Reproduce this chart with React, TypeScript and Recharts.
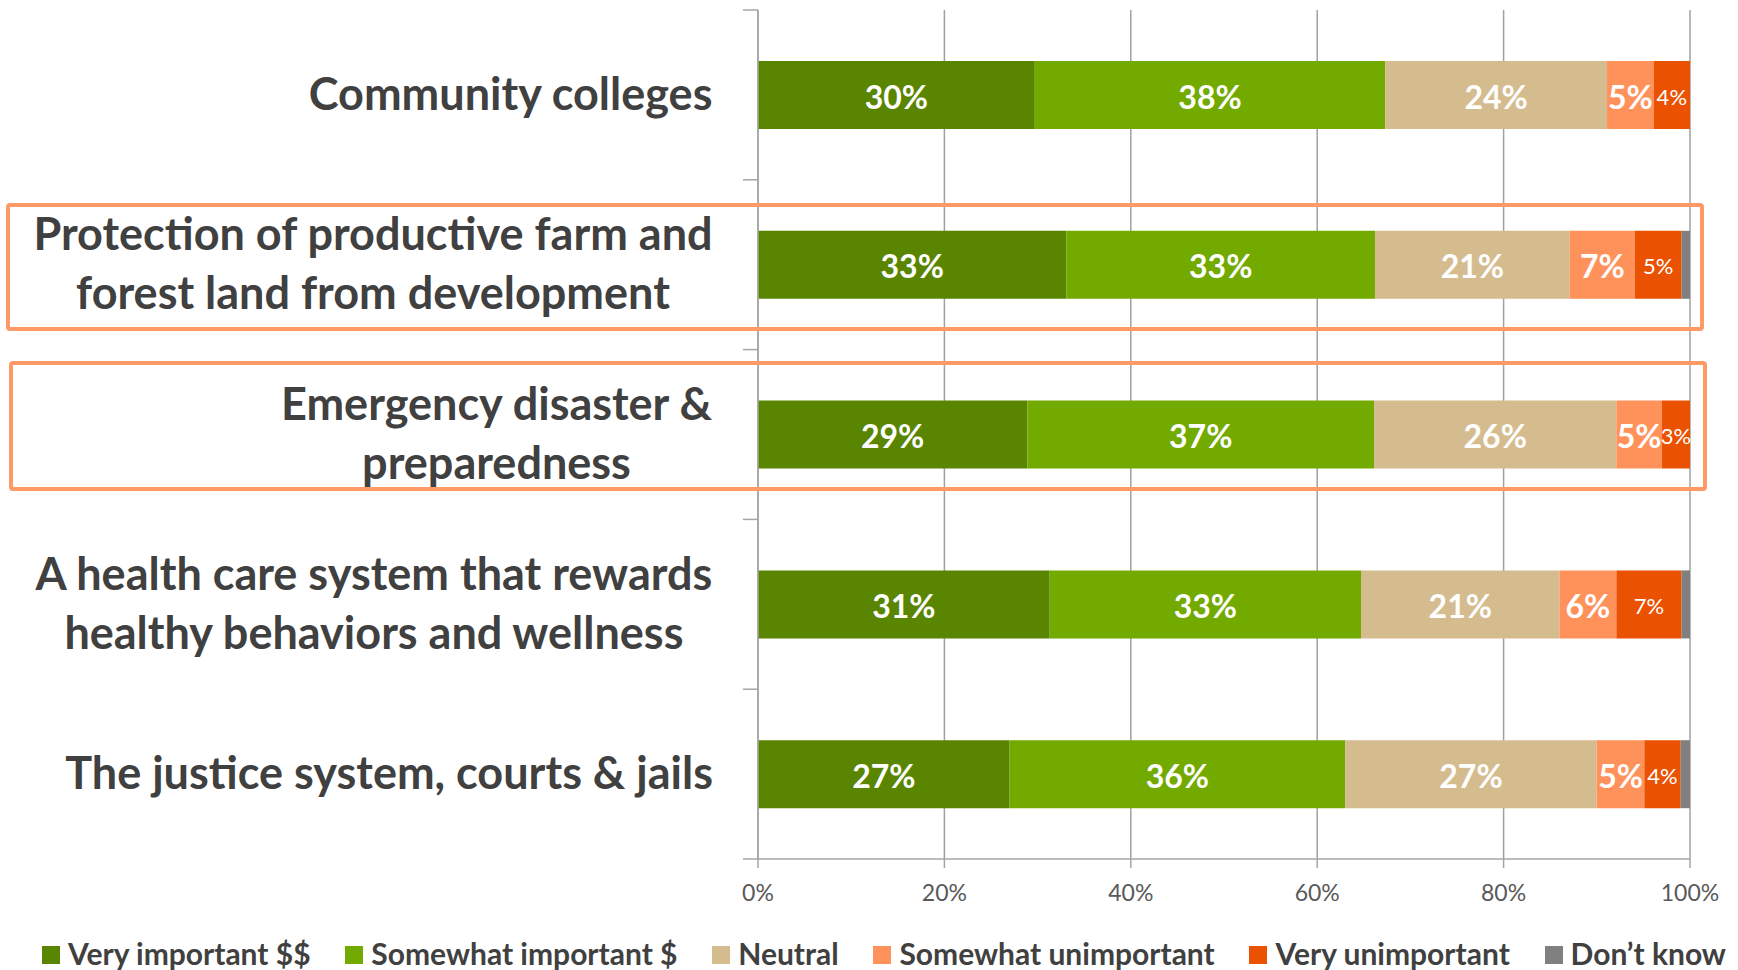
import * as R from 'recharts';
import { BarChart, Bar, XAxis, YAxis, CartesianGrid, LabelList } from 'recharts';

const categories = [
  'Community colleges',
  'Protection of productive farm and forest land from development',
  'Emergency disaster & preparedness',
  'A health care system that rewards healthy behaviors and wellness',
  'The justice system, courts & jails',
];

// how each category label wraps in the original
const categoryLines = [
  ['Community colleges'],
  ['Protection of productive farm and', 'forest land from development'],
  ['Emergency disaster &', 'preparedness'],
  ['A health care system that rewards', 'healthy behaviors and wellness'],
  ['The justice system, courts & jails'],
];

const veryImportant = [29.7, 33.1, 28.9, 31.3, 27.0];
const somewhatImportant = [37.6, 33.1, 37.2, 33.4, 36.0];
const neutral = [23.8, 20.9, 26.0, 21.3, 27.0];
const somewhatUnimportant = [5.0, 7.0, 4.9, 6.1, 5.1];
const veryUnimportant = [3.9, 5.0, 3.0, 7.0, 3.9];
const dontKnow = [0, 0.9, 0, 0.9, 1.0];

const xTicks = [0, 20, 40, 60, 80, 100];

const series = [
  { key: 'veryImportant', name: 'Very important $$', color: '#5a8500', values: veryImportant, bold: true },
  { key: 'somewhatImportant', name: 'Somewhat important $', color: '#72aa00', values: somewhatImportant, bold: true },
  { key: 'neutral', name: 'Neutral', color: '#d5bc8f', values: neutral, bold: true },
  { key: 'somewhatUnimportant', name: 'Somewhat unimportant', color: '#ff915a', values: somewhatUnimportant, bold: true },
  { key: 'veryUnimportant', name: 'Very unimportant', color: '#ea5100', values: veryUnimportant, bold: false },
  { key: 'dontKnow', name: 'Don\u2019t know', color: '#808080', values: dontKnow, bold: false },
];

const data = categories.map((name, i) => {
  const row: any = { name };
  series.forEach((s) => { row[s.key] = s.values[i]; });
  return row;
});

const FONT = 'Lato, "Open Sans", sans-serif';
const TEXT = '#404040';
const AXIS = '#a6a6a6';
const LABEL_RIGHT = 713;
const CAT_FONT_SIZE = 45;

const usePlotAreaSafe: () => any = (R as any).usePlotArea || (() => null);

let measureCtx: CanvasRenderingContext2D | null = null;
function textWidth(str: string, font: string) {
  if (!measureCtx) measureCtx = document.createElement('canvas').getContext('2d');
  if (!measureCtx) return str.length * 20;
  measureCtx.font = font;
  return measureCtx.measureText(str).width;
}

function CategoryTick(props: any) {
  const { y, payload } = props;
  const lines = categoryLines[payload.index] || [payload.value];
  const widest = Math.max(...lines.map((l: string) => textWidth(l, `bold ${CAT_FONT_SIZE}px Lato`)));
  const cx = LABEL_RIGHT - widest / 2;
  const lineH = 59;
  const startY = y - 2 - ((lines.length - 1) * lineH) / 2;
  return (
    <text x={cx} y={startY} textAnchor="middle" fill={TEXT} fontFamily={FONT} fontWeight={700} fontSize={CAT_FONT_SIZE}>
      {lines.map((l: string, i: number) => (
        <tspan key={i} x={cx} y={startY + i * lineH} dominantBaseline="central">{l}</tspan>
      ))}
    </text>
  );
}

// Excel-style category ticks sit between categories, on the outside of the axis
function BoundaryTicks() {
  const area = usePlotAreaSafe();
  if (!area) return null;
  const n = categories.length;
  return (
    <g>
      {Array.from({ length: n + 1 }, (_, i) => {
        const yy = area.y + (area.height * i) / n;
        return <line key={i} x1={area.x - 15} x2={area.x} y1={yy} y2={yy} stroke={AXIS} strokeWidth={1.5} />;
      })}
    </g>
  );
}

function segmentLabel(bold: boolean) {
  return (props: any) => {
    const { x, y, width, height, value } = props;
    if (value == null || value < 2) return null;
    return (
      <text
        x={x + width / 2}
        y={y + height / 2 + 1}
        textAnchor="middle"
        dominantBaseline="central"
        fill="#ffffff"
        fontFamily={FONT}
        fontWeight={bold ? 700 : 400}
        fontSize={bold ? 32 : 22}
      >
        {Math.round(value)}%
      </text>
    );
  };
}

const boxStyle = (left: number, top: number, right: number, bottom: number): React.CSSProperties => ({
  position: 'absolute',
  left,
  top,
  width: right - left,
  height: bottom - top,
  border: '4.5px solid #ff9966',
  borderRadius: 4,
  boxSizing: 'border-box',
  pointerEvents: 'none',
});

export default function App() {
  return (
    <div style={{ position: 'absolute', left: 0, top: 0, width: 1738, height: 970, background: '#fff', fontFamily: FONT }}>
      <BarChart
        width={1738}
        height={905}
        data={data}
        layout="vertical"
        margin={{ top: 10, right: 48, bottom: 6, left: 0 }}
      >
        <CartesianGrid horizontal={false} stroke="#a0a0a0" strokeWidth={1.5} />
        <XAxis
          type="number"
          domain={[0, 100]}
          ticks={xTicks}
          tickFormatter={(v) => `${v}%`}
          height={40}
          tickSize={9}
          tickMargin={17}
          stroke={AXIS}
          strokeWidth={1.5}
          tick={{ fill: '#595959', fontSize: 23, fontFamily: FONT }}
        />
        <YAxis
          type="category"
          dataKey="name"
          width={758}
          tickLine={false}
          stroke={AXIS}
          strokeWidth={1.5}
          tick={<CategoryTick />}
          interval={0}
        />
        {series.map((s) => (
          <Bar key={s.key} dataKey={s.key} name={s.name} stackId="a" fill={s.color} barSize={68} isAnimationActive={false}>
            <LabelList dataKey={s.key} content={segmentLabel(s.bold)} />
          </Bar>
        ))}
        <BoundaryTicks />
      </BarChart>

      <div style={boxStyle(6, 203, 1704, 331)} />
      <div style={boxStyle(9, 361, 1707, 491)} />

      <div
        style={{
          position: 'absolute',
          left: 42,
          width: 1684,
          top: 934,
          height: 38,
          display: 'flex',
          justifyContent: 'space-between',
          alignItems: 'center',
        }}
      >
        {series.map((s) => (
          <div key={s.key} style={{ display: 'flex', alignItems: 'center', gap: 8 }}>
            <div style={{ width: 18, height: 18, background: s.color, marginTop: 4 }} />
            <span style={{ color: TEXT, fontWeight: 700, fontSize: 30, whiteSpace: 'nowrap' }}>{s.name}</span>
          </div>
        ))}
      </div>
    </div>
  );
}
